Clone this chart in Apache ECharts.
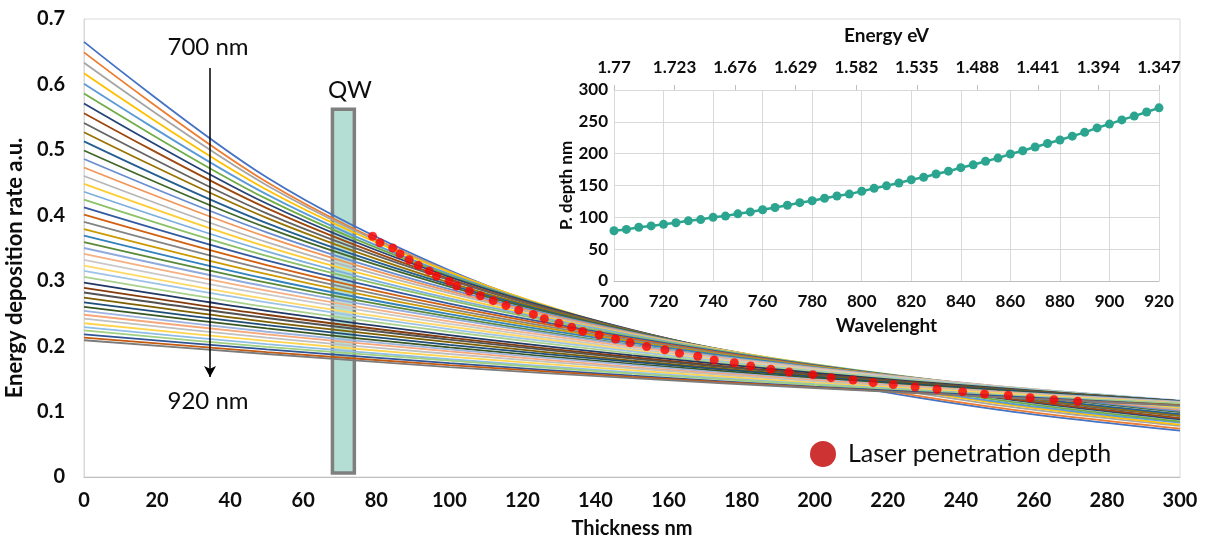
<!DOCTYPE html>
<html><head><meta charset="utf-8">
<script src="https://cdn.jsdelivr.net/npm/echarts@6/dist/echarts.min.js"></script>
<style>html,body{margin:0;padding:0;background:#fff}#c{width:1212px;height:539px}</style>
</head><body><div id="c"></div>
<script>
// ---- data ----
const thicknessNm = [0, 50, 100, 150, 200, 250, 300];
const e700 = [0.665, 0.458, 0.316, 0.218, 0.150, 0.103, 0.071];
const e705 = [0.649, 0.451, 0.314, 0.218, 0.152, 0.106, 0.074];
const e710 = [0.633, 0.446, 0.314, 0.222, 0.156, 0.110, 0.078];
const e715 = [0.617, 0.439, 0.313, 0.223, 0.158, 0.113, 0.080];
const e720 = [0.601, 0.432, 0.310, 0.223, 0.160, 0.115, 0.083];
const e725 = [0.586, 0.425, 0.308, 0.224, 0.162, 0.118, 0.085];
const e730 = [0.571, 0.418, 0.306, 0.225, 0.165, 0.121, 0.088];
const e735 = [0.556, 0.411, 0.303, 0.224, 0.165, 0.122, 0.090];
const e740 = [0.541, 0.403, 0.301, 0.224, 0.167, 0.124, 0.093];
const e745 = [0.527, 0.396, 0.297, 0.223, 0.167, 0.126, 0.094];
const e750 = [0.513, 0.388, 0.294, 0.222, 0.168, 0.127, 0.096];
const e755 = [0.499, 0.381, 0.291, 0.222, 0.170, 0.130, 0.099];
const e760 = [0.486, 0.374, 0.287, 0.221, 0.170, 0.131, 0.101];
const e765 = [0.473, 0.367, 0.284, 0.220, 0.171, 0.132, 0.103];
const e770 = [0.460, 0.359, 0.281, 0.219, 0.171, 0.134, 0.104];
const e775 = [0.448, 0.352, 0.277, 0.218, 0.172, 0.135, 0.106];
const e780 = [0.436, 0.345, 0.273, 0.217, 0.171, 0.136, 0.108];
const e785 = [0.424, 0.338, 0.270, 0.215, 0.172, 0.137, 0.109];
const e790 = [0.412, 0.331, 0.265, 0.213, 0.171, 0.137, 0.110];
const e795 = [0.401, 0.324, 0.261, 0.211, 0.170, 0.137, 0.111];
const e800 = [0.390, 0.317, 0.257, 0.209, 0.169, 0.137, 0.112];
const e805 = [0.379, 0.310, 0.253, 0.207, 0.169, 0.138, 0.113];
const e810 = [0.369, 0.303, 0.249, 0.205, 0.168, 0.138, 0.113];
const e815 = [0.359, 0.297, 0.245, 0.202, 0.167, 0.138, 0.114];
const e820 = [0.350, 0.291, 0.242, 0.201, 0.167, 0.139, 0.115];
const e825 = [0.341, 0.285, 0.238, 0.199, 0.166, 0.139, 0.116];
const e830 = [0.332, 0.279, 0.234, 0.196, 0.165, 0.138, 0.116];
const e835 = [0.323, 0.272, 0.230, 0.194, 0.163, 0.138, 0.116];
const e840 = [0.315, 0.267, 0.226, 0.192, 0.162, 0.138, 0.117];
const e845 = [0.306, 0.260, 0.222, 0.189, 0.161, 0.137, 0.116];
const e850 = [0.297, 0.254, 0.217, 0.186, 0.159, 0.136, 0.116];
const e855 = [0.289, 0.248, 0.213, 0.183, 0.157, 0.135, 0.116];
const e860 = [0.282, 0.243, 0.210, 0.181, 0.156, 0.135, 0.116];
const e865 = [0.274, 0.237, 0.206, 0.178, 0.154, 0.134, 0.116];
const e870 = [0.267, 0.232, 0.202, 0.176, 0.153, 0.133, 0.116];
const e875 = [0.260, 0.227, 0.198, 0.173, 0.151, 0.132, 0.115];
const e880 = [0.254, 0.222, 0.195, 0.171, 0.149, 0.131, 0.115];
const e885 = [0.248, 0.218, 0.192, 0.168, 0.148, 0.130, 0.114];
const e890 = [0.242, 0.213, 0.188, 0.166, 0.146, 0.129, 0.114];
const e895 = [0.235, 0.208, 0.184, 0.163, 0.144, 0.128, 0.113];
const e900 = [0.229, 0.203, 0.180, 0.160, 0.142, 0.126, 0.112];
const e905 = [0.224, 0.199, 0.178, 0.158, 0.141, 0.125, 0.112];
const e910 = [0.218, 0.195, 0.174, 0.155, 0.138, 0.124, 0.110];
const e915 = [0.213, 0.191, 0.171, 0.153, 0.137, 0.122, 0.110];
const e920 = [0.209, 0.188, 0.168, 0.151, 0.136, 0.122, 0.109];

const wavelengthNm = [700, 705, 710, 715, 720, 725, 730, 735, 740, 745, 750, 755, 760, 765, 770,
  775, 780, 785, 790, 795, 800, 805, 810, 815, 820, 825, 830, 835, 840, 845, 850, 855, 860,
  865, 870, 875, 880, 885, 890, 895, 900, 905, 910, 915, 920];
const penetrationDepthNm = [79, 81, 84.5, 86.5, 89, 91.5, 94.5, 96.5, 100, 102, 105.5, 108.5, 112,
  115.5, 119, 123, 126, 130, 133.5, 136.5, 141, 145.5, 149.5, 154, 159, 163, 168, 172.5, 178,
  182.5, 188, 193, 199.5, 204.5, 210.5, 216, 221.5, 227.5, 233.5, 240.5, 246.5, 253, 259, 265.5, 272];
const depositionAtDepth = [0.368, 0.358, 0.350, 0.341, 0.332, 0.3235, 0.315, 0.307, 0.299, 0.292,
  0.284, 0.277, 0.2695, 0.262, 0.255, 0.2485, 0.242, 0.235, 0.229, 0.2225, 0.217, 0.211, 0.205,
  0.1995, 0.1945, 0.189, 0.1845, 0.179, 0.1747, 0.1697, 0.1646, 0.1605, 0.1564, 0.1518, 0.1483,
  0.1442, 0.1412, 0.1376, 0.134, 0.1304, 0.1269, 0.1249, 0.1212, 0.1181, 0.1157];
const energyEvLabels = ['1.77', '1.723', '1.676', '1.629', '1.582', '1.535', '1.488', '1.441', '1.394', '1.347'];

const curveValues = [e700, e705, e710, e715, e720, e725, e730, e735, e740, e745, e750, e755, e760,
  e765, e770, e775, e780, e785, e790, e795, e800, e805, e810, e815, e820, e825, e830, e835, e840,
  e845, e850, e855, e860, e865, e870, e875, e880, e885, e890, e895, e900, e905, e910, e915, e920];

// ---- styles ----
const palette = ['#4472C4','#ED7D31','#A5A5A5','#FFC000','#5B9BD5','#70AD47',
  '#264478','#9E480E','#636363','#997300','#255E91','#43682B',
  '#698ED0','#F1975A','#B7B7B7','#FFCD33','#7CAFDD','#8CC168',
  '#335AA1','#D26012','#848484','#CC9A00','#3282BD','#5A8A39',
  '#8FAADC','#F4B183','#C9C9C9','#FFD966','#9DC3E6','#A9D18E',
  '#203864','#843C0C','#525252','#7F6000','#1F4E79','#385723',
  '#9DB4E0','#F6A87A','#C0C0C0','#FFD54F','#8FBDE6','#9FCF80',
  '#2F5597','#C55A11','#7B7B7B'];
const FONT = 'Lato';
const TXT = '#0d0d0d';

const series = [];
curveValues.forEach((vals, i) => {
  series.push({
    type: 'line', name: wavelengthNm[i] + ' nm', xAxisIndex: 0, yAxisIndex: 0,
    data: thicknessNm.map((x, j) => [x, vals[j]]),
    smooth: 0.33, symbol: 'none', showSymbol: false, silent: true,
    lineStyle: { width: 1.8, color: palette[i] }, itemStyle: { color: palette[i] }, z: 2
  });
});
series.push({
  type: 'line', name: 'annot', xAxisIndex: 0, yAxisIndex: 0, data: [], silent: true, z: 4,
  markArea: {
    silent: true,
    itemStyle: { color: 'rgba(119,195,177,0.55)', borderColor: '#7F7F7F', borderWidth: 3.5 },
    label: { show: false },
    data: [[{ coord: [68, 0.006] }, { coord: [74, 0.562] }]]
  },
  markLine: {
    silent: true, symbol: ['none', 'arrow'], symbolSize: [9, 11], animation: false,
    lineStyle: { color: '#000', width: 1.5, type: 'solid' }, label: { show: false },
    data: [[{ coord: [34.5, 0.625] }, { coord: [34.5, 0.153] }]]
  }
});
series.push({
  type: 'scatter', name: 'Laser penetration depth', xAxisIndex: 0, yAxisIndex: 0,
  data: penetrationDepthNm.map((d, i) => [d, depositionAtDepth[i]]),
  symbol: 'circle', symbolSize: 9, itemStyle: { color: '#FF0000' }, z: 5
});
series.push({
  type: 'line', name: 'P. depth', xAxisIndex: 1, yAxisIndex: 1,
  data: wavelengthNm.map((w, i) => [w, penetrationDepthNm[i]]),
  symbol: 'circle', symbolSize: 9, showSymbol: true,
  lineStyle: { color: '#2BA58F', width: 2.5 }, itemStyle: { color: '#2BA58F' }, z: 6
});

const bold = (size) => ({ fontFamily: FONT, fontWeight: 'bold', fontSize: size, color: TXT });

const option = {
  animation: false,
  backgroundColor: '#fff',
  textStyle: { fontFamily: FONT },
  grid: [
    { left: 84, right: 32, top: 19, bottom: 62, containLabel: false, outerBoundsMode: 'none',
      show: true, borderColor: '#D9D9D9', borderWidth: 1, backgroundColor: 'transparent' },
    { left: 614, right: 53, top: 90, bottom: 258, containLabel: false, outerBoundsMode: 'none' }
  ],
  xAxis: [
    { gridIndex: 0, type: 'value', min: 0, max: 300, interval: 20,
      name: 'Thickness nm', nameLocation: 'middle', nameGap: 42, nameTextStyle: bold(20),
      axisLine: { show: true, lineStyle: { color: '#BFBFBF' } }, axisTick: { show: false },
      axisLabel: Object.assign({ margin: 14 }, bold(20)), splitLine: { show: false } },
    { gridIndex: 1, type: 'value', min: 700, max: 920, interval: 20,
      name: 'Wavelenght', nameLocation: 'middle', nameGap: 35, nameTextStyle: bold(19),
      axisLine: { show: true, lineStyle: { color: '#BFBFBF' } }, axisTick: { show: false },
      axisLabel: Object.assign({ margin: 12 }, bold(17)),
      splitLine: { show: true, lineStyle: { color: '#D9D9D9', width: 1 } } },
    { gridIndex: 1, type: 'category', position: 'top', data: energyEvLabels, boundaryGap: false,
      name: 'Energy eV', nameLocation: 'middle', nameGap: 45, nameTextStyle: bold(19),
      axisLine: { show: true, lineStyle: { color: '#D9D9D9' } },
      axisTick: { show: true, inside: false, length: 5, lineStyle: { color: '#BFBFBF' } },
      axisLabel: Object.assign({ margin: 14, interval: 0 }, bold(17)), splitLine: { show: false } }
  ],
  yAxis: [
    { gridIndex: 0, type: 'value', min: 0, max: 0.7, interval: 0.1,
      name: 'Energy deposition rate a.u.', nameLocation: 'middle', nameGap: 53, nameRotate: 90,
      nameTextStyle: Object.assign({ padding: [0, 40, 0, 0] }, bold(22)),
      axisLine: { show: true, lineStyle: { color: '#D9D9D9' } }, axisTick: { show: false },
      axisLabel: Object.assign({ margin: 19 }, bold(20)), splitLine: { show: false } },
    { gridIndex: 1, type: 'value', min: 0, max: 300, interval: 50,
      name: 'P. depth nm', nameLocation: 'middle', nameGap: 38, nameRotate: 90, nameTextStyle: bold(17),
      axisLine: { show: true, lineStyle: { color: '#D9D9D9' } }, axisTick: { show: false },
      axisLabel: Object.assign({ margin: 6 }, bold(17)),
      splitLine: { show: true, lineStyle: { color: '#D9D9D9', width: 1 } } }
  ],
  legend: {
    show: true, selectedMode: false, left: 810, top: 441, padding: 0, itemWidth: 26, itemHeight: 26,
    data: [{ name: 'Laser penetration depth', icon: 'circle', itemStyle: { color: '#C00000' } }],
    textStyle: { fontFamily: FONT, fontSize: 25, color: TXT, padding: [0, 0, 0, 7] }
  },
  graphic: [
    { type: 'text', x: 208, y: 47, z: 10, style: { text: '700 nm', font: '24px Lato', fill: TXT, align: 'center', verticalAlign: 'middle' } },
    { type: 'text', x: 208, y: 401, z: 10, style: { text: '920 nm', font: '24px Lato', fill: TXT, align: 'center', verticalAlign: 'middle' } },
    { type: 'text', x: 350, y: 90, z: 10, style: { text: 'QW', font: '24px Lato', fill: TXT, align: 'center', verticalAlign: 'middle' } }
  ],
  series: series
};
const chart = echarts.init(document.getElementById('c'), null, { renderer: 'canvas' });
chart.setOption(option);
</script></body></html>
